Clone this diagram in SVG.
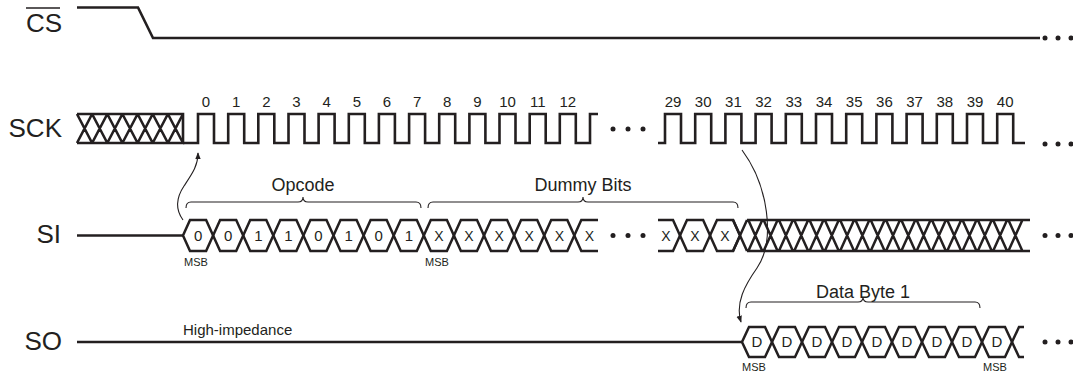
<svg xmlns="http://www.w3.org/2000/svg" xmlns:xlink="http://www.w3.org/1999/xlink" width="1073" height="374" viewBox="0 0 1073 374">
<style>
  .sig{fill:none;stroke:#231f20;stroke-width:2.6;stroke-linejoin:miter;stroke-linecap:butt}
  .thin{fill:none;stroke:#231f20;stroke-width:1.1}
  .hx{fill:none;stroke:#231f20;stroke-width:2.5}
  .name{font-family:"Liberation Sans",Arial,sans-serif;font-size:26px;fill:#231f20}
  .num{font-family:"Liberation Sans",Arial,sans-serif;font-size:15px;fill:#231f20;text-anchor:middle}
  .bit{font-family:"Liberation Sans",Arial,sans-serif;font-size:15px;fill:#231f20;text-anchor:middle}
  .bx{font-family:"Liberation Sans",Arial,sans-serif;font-size:14px;fill:#231f20;text-anchor:middle}
  .msb{font-family:"Liberation Sans",Arial,sans-serif;font-size:11px;fill:#231f20;text-anchor:middle}
  .lbl{font-family:"Liberation Sans",Arial,sans-serif;font-size:18px;fill:#231f20;text-anchor:middle}
  .dot{fill:#231f20}
</style>
<defs>
  <path id="hex" d="M0,0 L7,-15.5 H23.1 L30.1,0 L23.1,15.5 H7 Z"/>
  <path id="hexo" d="M0,0 L7,-15 H23 L30,0 L23,15 H7 Z"/>
  <marker id="arr" viewBox="0 0 10 10" refX="9" refY="5" markerWidth="7" markerHeight="7" markerUnits="userSpaceOnUse" orient="auto">
    <path d="M0,1 L10,5 L0,9 Z" fill="#231f20"/>
  </marker>
</defs>
<rect width="1073" height="374" fill="#ffffff"/>

<g id="cs">
  <text class="name" x="26" y="32">CS</text>
  <line x1="26" y1="8" x2="60" y2="8" stroke="#231f20" stroke-width="1.6"/>
  <path class="sig" d="M77,7.5 H138 L153,38 H1040"/>
  <circle class="dot" cx="1045" cy="38" r="2.5"/>
  <circle class="dot" cx="1058" cy="38" r="2.5"/>
  <circle class="dot" cx="1071" cy="38" r="2.5"/>
</g>

<g id="sck">
  <text class="name" x="62" y="137" text-anchor="end">SCK</text>
  <path class="sig" d="M77,114 H183 V143 H77"/>
  <path class="sig" d="M77,114 L92.1,143 M77,143 L92.1,114 M92.1,114 L107.3,143 M92.1,143 L107.3,114 M107.3,114 L122.4,143 M107.3,143 L122.4,114 M122.4,114 L137.6,143 M122.4,143 L137.6,114 M137.6,114 L152.7,143 M137.6,143 L152.7,114 M152.7,114 L167.9,143 M152.7,143 L167.9,114 M167.9,114 L183,143 M167.9,143 L183,114"/>
  <path class="sig" d="M183,143 H198 V114 H214 V143 H228.2 V114 H244.2 V143 H258.3 V114 H274.3 V143 H288.5 V114 H304.5 V143 H318.6 V114 H334.6 V143 H348.8 V114 H364.8 V143 H378.9 V114 H394.9 V143 H409.1 V114 H425.1 V143 H439.2 V114 H455.2 V143 H469.4 V114 H485.4 V143 H499.5 V114 H515.5 V143 H529.7 V114 H545.7 V143 H559.8 V114 H575.8 V143 H590 V114 H598"/>
  <circle class="dot" cx="613" cy="129" r="2.5"/>
  <circle class="dot" cx="628" cy="129" r="2.5"/>
  <circle class="dot" cx="643" cy="129" r="2.5"/>
  <path class="sig" d="M658,143 H665 V114 H681 V143 H695.2 V114 H711.2 V143 H725.4 V114 H741.4 V143 H755.6 V114 H771.6 V143 H785.8 V114 H801.8 V143 H816 V114 H832 V143 H846.2 V114 H862.2 V143 H876.4 V114 H892.4 V143 H906.6 V114 H922.6 V143 H936.8 V114 H952.8 V143 H967 V114 H983 V143 H997.2 V114 H1013.2 V143 H1025"/>
  <circle class="dot" cx="1045" cy="144" r="2.5"/>
  <circle class="dot" cx="1058" cy="144" r="2.5"/>
  <circle class="dot" cx="1071" cy="144" r="2.5"/>
  <g>
    <text class="num" x="206" y="107">0</text>
    <text class="num" x="236.2" y="107">1</text>
    <text class="num" x="266.3" y="107">2</text>
    <text class="num" x="296.5" y="107">3</text>
    <text class="num" x="326.6" y="107">4</text>
    <text class="num" x="356.8" y="107">5</text>
    <text class="num" x="386.9" y="107">6</text>
    <text class="num" x="417.1" y="107">7</text>
    <text class="num" x="447.2" y="107">8</text>
    <text class="num" x="477.4" y="107">9</text>
    <text class="num" x="507.5" y="107">10</text>
    <text class="num" x="537.7" y="107">11</text>
    <text class="num" x="567.8" y="107">12</text>
    <text class="num" x="673" y="107">29</text>
    <text class="num" x="703.2" y="107">30</text>
    <text class="num" x="733.4" y="107">31</text>
    <text class="num" x="763.6" y="107">32</text>
    <text class="num" x="793.8" y="107">33</text>
    <text class="num" x="824" y="107">34</text>
    <text class="num" x="854.2" y="107">35</text>
    <text class="num" x="884.4" y="107">36</text>
    <text class="num" x="914.6" y="107">37</text>
    <text class="num" x="944.8" y="107">38</text>
    <text class="num" x="975" y="107">39</text>
    <text class="num" x="1005.2" y="107">40</text>
  </g>
</g>

<g id="si">
  <text class="name" x="61" y="243" text-anchor="end">SI</text>
  <path class="sig" d="M77,235.5 H183"/>
  <g class="hx">
    <use xlink:href="#hex" x="183" y="235.5"/>
    <use xlink:href="#hex" x="213.1" y="235.5"/>
    <use xlink:href="#hex" x="243.2" y="235.5"/>
    <use xlink:href="#hex" x="273.3" y="235.5"/>
    <use xlink:href="#hex" x="303.4" y="235.5"/>
    <use xlink:href="#hex" x="333.5" y="235.5"/>
    <use xlink:href="#hex" x="363.6" y="235.5"/>
    <use xlink:href="#hex" x="393.7" y="235.5"/>
    <use xlink:href="#hex" x="423.8" y="235.5"/>
    <use xlink:href="#hex" x="453.9" y="235.5"/>
    <use xlink:href="#hex" x="484" y="235.5"/>
    <use xlink:href="#hex" x="514.1" y="235.5"/>
    <use xlink:href="#hex" x="544.2" y="235.5"/>
    <path d="M598,220 H581.3 L574.3,235.5 L581.3,251 H598"/>
    <path d="M658,220 H673 L680,235.5 L673,251 H658"/>
    <use xlink:href="#hex" x="680" y="235.5"/>
    <use xlink:href="#hex" x="710" y="235.5"/>
    <path d="M747,220 H1030 M747,251 H1030 M733,220 L747,251 M733,251 L747,220 M748.3,220 L762.3,251 M748.3,251 L762.3,220 M763.6,220 L777.6,251 M763.6,251 L777.6,220 M778.9,220 L792.9,251 M778.9,251 L792.9,220 M794.2,220 L808.2,251 M794.2,251 L808.2,220 M809.5,220 L823.5,251 M809.5,251 L823.5,220 M824.8,220 L838.8,251 M824.8,251 L838.8,220 M840.1,220 L854.1,251 M840.1,251 L854.1,220 M855.4,220 L869.4,251 M855.4,251 L869.4,220 M870.7,220 L884.7,251 M870.7,251 L884.7,220 M886,220 L900,251 M886,251 L900,220 M901.3,220 L915.3,251 M901.3,251 L915.3,220 M916.6,220 L930.6,251 M916.6,251 L930.6,220 M931.9,220 L945.9,251 M931.9,251 L945.9,220 M947.2,220 L961.2,251 M947.2,251 L961.2,220 M962.5,220 L976.5,251 M962.5,251 L976.5,220 M977.8,220 L991.8,251 M977.8,251 L991.8,220 M993.1,220 L1007.1,251 M993.1,251 L1007.1,220 M1008.4,220 L1022.4,251 M1008.4,251 L1022.4,220"/>
  </g>
  <text class="bit" x="198.1" y="241">0</text>
  <text class="bit" x="228.2" y="241">0</text>
  <text class="bit" x="258.3" y="241">1</text>
  <text class="bit" x="288.4" y="241">1</text>
  <text class="bit" x="318.5" y="241">0</text>
  <text class="bit" x="348.6" y="241">1</text>
  <text class="bit" x="378.7" y="241">0</text>
  <text class="bit" x="408.8" y="241">1</text>
  <text class="bx" x="438.9" y="240.5">X</text>
  <text class="bx" x="469" y="240.5">X</text>
  <text class="bx" x="499.1" y="240.5">X</text>
  <text class="bx" x="529.2" y="240.5">X</text>
  <text class="bx" x="559.3" y="240.5">X</text>
  <text class="bx" x="589.4" y="240.5">X</text>
  <text class="bx" x="666" y="240.5">X</text>
  <text class="bx" x="695" y="240.5">X</text>
  <text class="bx" x="725" y="240.5">X</text>
  <circle class="dot" cx="613" cy="235.5" r="2.5"/>
  <circle class="dot" cx="628" cy="235.5" r="2.5"/>
  <circle class="dot" cx="643" cy="235.5" r="2.5"/>
  <circle class="dot" cx="1045" cy="235.5" r="2.5"/>
  <circle class="dot" cx="1058" cy="235.5" r="2.5"/>
  <circle class="dot" cx="1071" cy="235.5" r="2.5"/>
  <text class="msb" x="196" y="266">MSB</text>
  <text class="msb" x="437" y="266">MSB</text>
  <path class="thin" d="M186,208 Q186,202 191,202 H298 Q303,202 303,197 Q303,202 308,202 H416 Q421,202 421,208"/>
  <text class="lbl" x="303" y="191">Opcode</text>
  <path class="thin" d="M428,208 Q428,202 433,202 H578 Q583,202 583,197 Q583,202 588,202 H733 Q738,202 738,208"/>
  <text class="lbl" x="583" y="191">Dummy Bits</text>
</g>

<g id="so">
  <text class="name" x="62" y="350" text-anchor="end">SO</text>
  <path class="sig" d="M77,342 H742"/>
  <text font-family="Liberation Sans, Arial, sans-serif" font-size="15" fill="#231f20" x="183" y="335">High-impedance</text>
  <g class="hx">
    <use xlink:href="#hexo" x="742" y="342"/>
    <use xlink:href="#hexo" x="772" y="342"/>
    <use xlink:href="#hexo" x="802" y="342"/>
    <use xlink:href="#hexo" x="832" y="342"/>
    <use xlink:href="#hexo" x="862" y="342"/>
    <use xlink:href="#hexo" x="892" y="342"/>
    <use xlink:href="#hexo" x="922" y="342"/>
    <use xlink:href="#hexo" x="952" y="342"/>
    <use xlink:href="#hexo" x="982" y="342"/>
    <path d="M1024,327 H1019 L1012,342 L1019,357 H1024"/>
  </g>
  <text class="bit" x="757" y="347">D</text>
  <text class="bit" x="787" y="347">D</text>
  <text class="bit" x="817" y="347">D</text>
  <text class="bit" x="847" y="347">D</text>
  <text class="bit" x="877" y="347">D</text>
  <text class="bit" x="907" y="347">D</text>
  <text class="bit" x="937" y="347">D</text>
  <text class="bit" x="967" y="347">D</text>
  <text class="bit" x="997" y="347">D</text>
  <circle class="dot" cx="1045" cy="342" r="2.5"/>
  <circle class="dot" cx="1058" cy="342" r="2.5"/>
  <circle class="dot" cx="1071" cy="342" r="2.5"/>
  <text class="msb" x="754" y="371">MSB</text>
  <text class="msb" x="995" y="371">MSB</text>
  <path class="thin" d="M746,308 Q746,302 751,302 H858 Q863,302 863,297 Q863,302 868,302 H975 Q980,302 980,308"/>
  <text class="lbl" x="863" y="298">Data Byte 1</text>
</g>

<g id="connectors">
  <path class="thin" d="M183,220 C175,209 176,198 184,186 C192,174 198,166 198,153" marker-end="url(#arr)"/>
  <path class="thin" d="M742,150 C768,185 776,240 757,268 C745,285 735,303 741,322" marker-end="url(#arr)"/>
</g>
</svg>
